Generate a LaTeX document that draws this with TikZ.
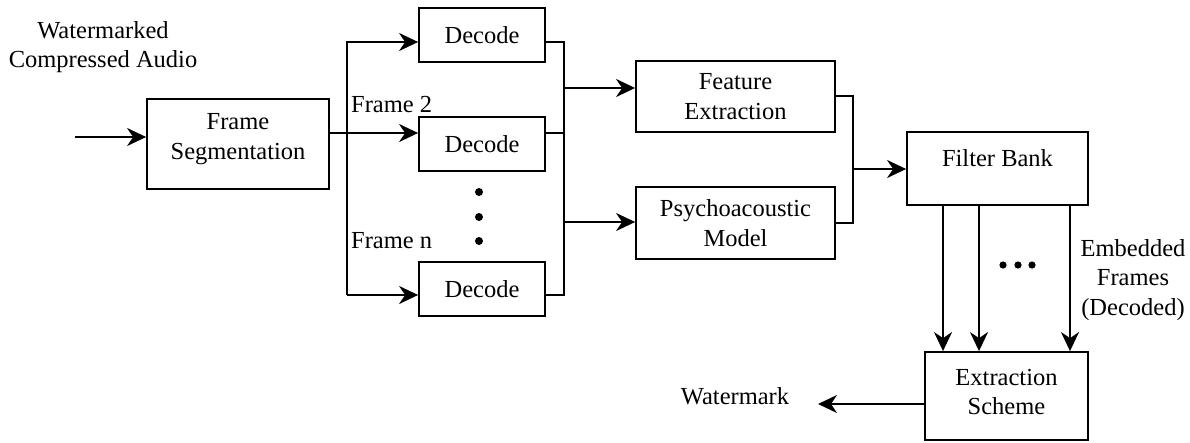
\documentclass[tikz,border=0pt]{standalone}
\usepackage{fontspec}
\setmainfont{Liberation Serif}
\usetikzlibrary{arrows.meta}
\begin{document}
\begin{tikzpicture}[x=1pt,y=-1pt,
  every node/.style={font=\fontsize{24.5}{29.5}\selectfont},
  every label/.style={align=center,font=\fontsize{24.5}{29.5}\selectfont},
  blk/.style={draw,line width=1.8pt,inner sep=0pt,align=center},
  ln/.style={line width=1.8pt},
  arr/.style={line width=1.8pt,-{Stealth[length=19pt,width=18pt,inset=6pt]}},
  dot/.style={fill=black}]
\useasboundingbox (0,0) rectangle (1190,442);
% blocks
\node[blk,minimum width=182pt,minimum height=90pt,label={[yshift=5pt]center:Frame\\Segmentation}] (seg) at (238,144) {};
\node[blk,minimum width=126pt,minimum height=54pt] (d1) at (482,35) {Decode};
\node[blk,minimum width=126pt,minimum height=54pt] (d2) at (482,144) {Decode};
\node[blk,minimum width=126pt,minimum height=54pt] (d3) at (482,289) {Decode};
\node[blk,minimum width=199pt,minimum height=71pt] (fe) at (735.5,96.5) {Feature\\Extraction};
\node[blk,minimum width=199pt,minimum height=72pt] (pm) at (735.5,223) {Psychoacoustic\\Model};
\node[blk,minimum width=181pt,minimum height=73pt,label={[yshift=10pt]center:Filter Bank}] (fb) at (997.5,168.5) {};
\node[blk,minimum width=163pt,minimum height=88pt,label={[yshift=4pt]center:Extraction\\Scheme}] (es) at (1006.5,396) {};
% texts
\node[align=center] (wca) at (103,47) {Watermarked\\Compressed Audio};
\node[anchor=base west,inner sep=0pt] (f2) at (351,112) {Frame 2};
\node[anchor=base west,inner sep=0pt] (fn) at (351,248) {Frame n};
\node[align=center] (emb) at (1133,280) {Embedded\\Frames\\(Decoded)};
\node (wmt) at (735,396) {Watermark};
% input
\coordinate (in) at (75,137);
\draw[arr] (in) -- (in -| seg.west);
% left bus
\coordinate (b1) at (347,42);
\coordinate (b3) at (347,295);
\coordinate (s2) at (329,133);
\draw[arr] (s2 -| seg.east) -- (s2 -| d2.west);
\draw[arr] (b3) -- (b1) -- (b1 -| d1.west);
\draw[arr] (b3) -- (b3 -| d3.west);
% right bus of decoders
\coordinate (r1) at (564,42);
\coordinate (r3) at (564,295);
\draw[ln] (b1 -| d1.east) -- (r1) -- (r3) -- (b3 -| d3.east);
\draw[ln] (s2 -| d2.east) -- (s2 -| r1);
\coordinate (q1) at (564,88);
\coordinate (q2) at (564,222);
\draw[arr] (q1) -- (q1 -| fe.west);
\draw[arr] (q2) -- (q2 -| pm.west);
% bus to filter bank
\coordinate (g1) at (853,96);
\coordinate (g2) at (853,223);
\coordinate (g3) at (853,169);
\draw[ln] (g1 -| fe.east) -- (g1) -- (g2) -- (g2 -| pm.east);
\draw[arr] (g3) -- (g3 -| fb.west);
% filter bank outputs
\coordinate (v1) at (943,0);
\coordinate (v2) at (979,0);
\coordinate (v3) at (1070,0);
\draw[arr] (v1 |- fb.south) -- (v1 |- es.north);
\draw[arr] (v2 |- fb.south) -- (v2 |- es.north);
\draw[arr] (v3 |- fb.south) -- (v3 |- es.north);
% watermark output
\coordinate (wm) at (818,404);
\draw[arr] (wm -| es.west) -- (wm);
% dots
\fill[dot] (479,192) circle (4pt) (479,217) circle (4pt) (479,241) circle (4pt);
\fill[dot] (1003,265) circle (3.6pt) (1018,265) circle (3.6pt) (1032,265) circle (3.6pt);
\end{tikzpicture}
\end{document}
